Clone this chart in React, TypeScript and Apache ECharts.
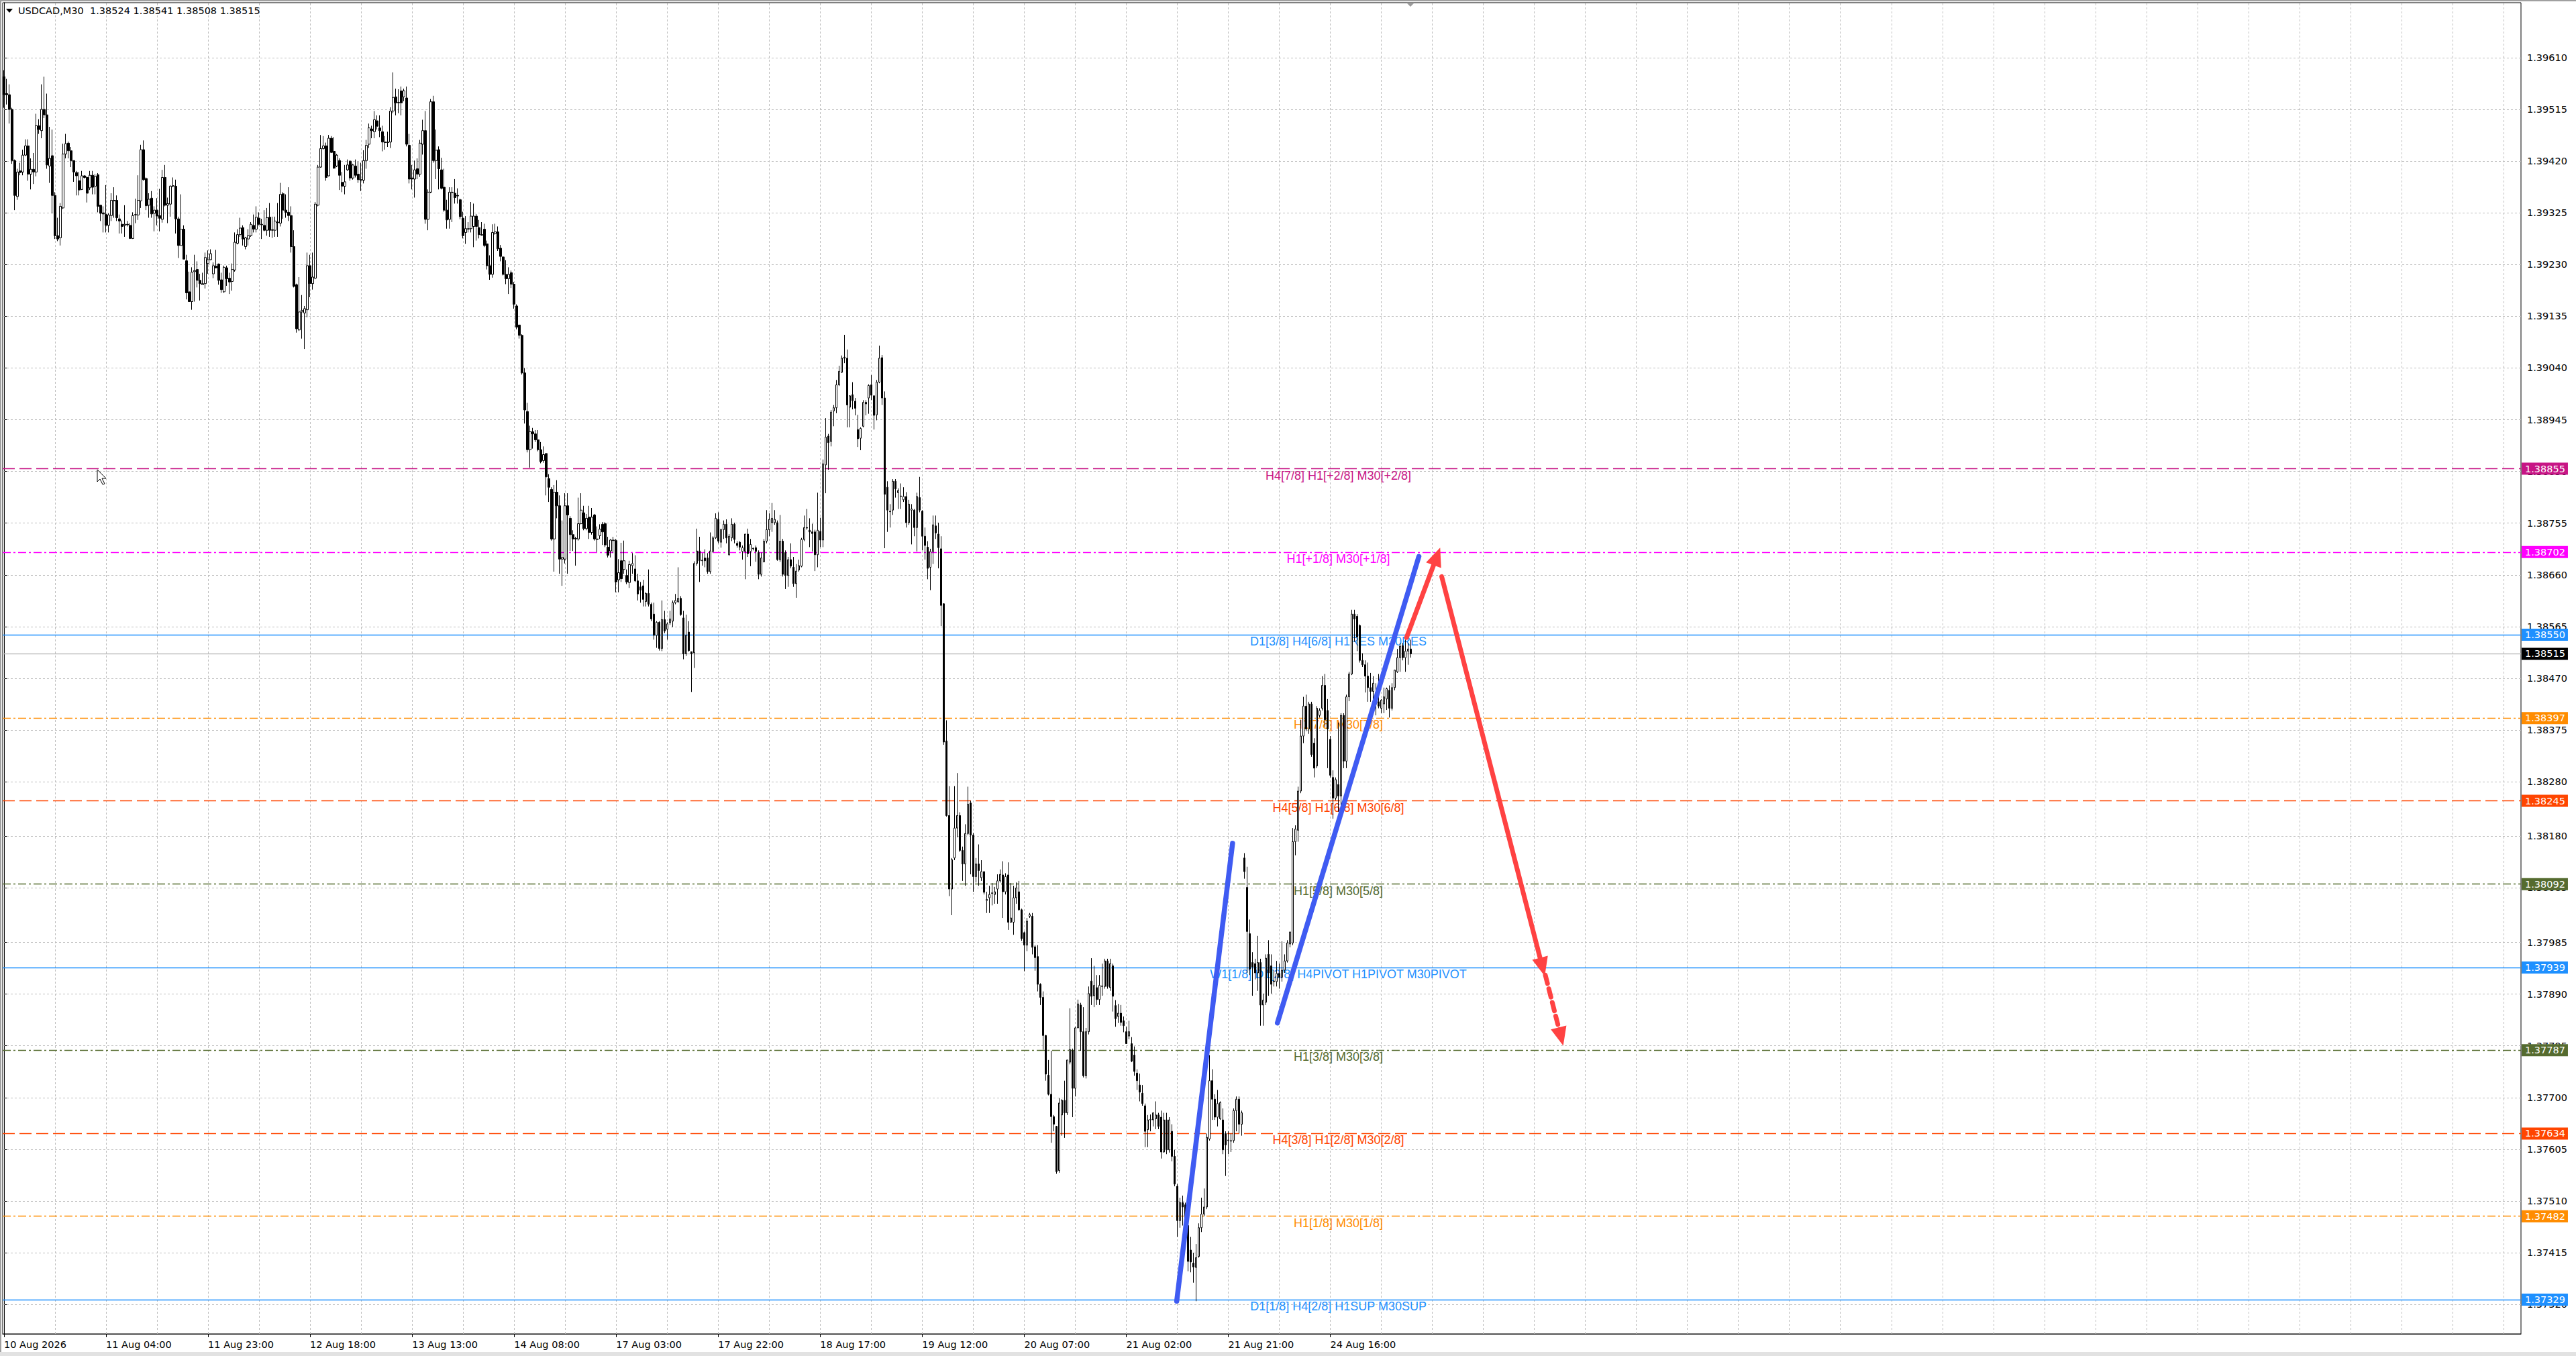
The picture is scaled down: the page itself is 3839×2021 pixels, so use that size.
import React, { useEffect, useRef } from "react";
import * as echarts from "echarts";

// ---------- data ----------
const symbolName = "USDCAD,M30";
const headerOHLC = [1.38524, 1.38541, 1.38508, 1.38515];
const bidPrice = 1.38515;
const totalSlots = 938; // bar slots on the time axis (incl. empty right margin)
const barsPerTick = 38;
const timeTickLabels = [
  "10 Aug 2026", "11 Aug 04:00", "11 Aug 23:00", "12 Aug 18:00", "13 Aug 13:00",
  "14 Aug 08:00", "17 Aug 03:00", "17 Aug 22:00", "18 Aug 17:00", "19 Aug 12:00",
  "20 Aug 07:00", "21 Aug 02:00", "21 Aug 21:00", "24 Aug 16:00",
];
const priceTickLabels = [
  1.3961, 1.39515, 1.3942, 1.39325, 1.3923, 1.39135, 1.3904, 1.38945, 1.3885,
  1.38755, 1.3866, 1.38565, 1.3847, 1.38375, 1.3828, 1.3818, 1.38085, 1.37985,
  1.3789, 1.37795, 1.377, 1.37605, 1.3751, 1.37415, 1.3732,
];
const levelPrices = [1.38855, 1.38702, 1.3855, 1.38397, 1.38245, 1.38092, 1.37939, 1.37787, 1.37634, 1.37482, 1.37329];
const levelNames = [
  "H4[7/8] H1[+2/8] M30[+2/8]", "H1[+1/8] M30[+1/8]", "D1[3/8] H4[6/8] H1RES M30RES",
  "H1[7/8] M30[7/8]", "H4[5/8] H1[6/8] M30[6/8]", "H1[5/8] M30[5/8]",
  "W1[1/8] D1[2/8] H4PIVOT H1PIVOT M30PIVOT", "H1[3/8] M30[3/8]", "H4[3/8] H1[2/8] M30[2/8]",
  "H1[1/8] M30[1/8]", "D1[1/8] H4[2/8] H1SUP M30SUP",
];
const levelColors = ["#C71585", "#FF00FF", "#1E90FF", "#FF8C00", "#FF4500", "#556B2F", "#1E90FF", "#556B2F", "#FF4500", "#FF8C00", "#1E90FF"];
const levelKinds = ["dash", "dashdot", "solid", "dashdot", "dash", "dashdot", "solid", "dashdot", "dash", "dashdot", "solid"];

// drawings: [barIndex, price]
const blueLine1 = [[436.8, 1.37326], [457.6, 1.38167]];
const blueLine2 = [[474.3, 1.37837], [527.0, 1.38694]];
const redArrowUp = [[522.4, 1.38545], [533.7, 1.38694]];
const redArrowDown = [[535.5, 1.38657], [573.0, 1.3794]];
const redArrowDashed = [[574.1, 1.37925], [579.9, 1.37812]];

// OHLC in points (price x 100000), rows: [open, close, low, high]
const ohlcBars0to133 = [
[139575,139542,139518,139587],[139544,139542,139524,139571],[139542,139515,139489,139561],[139515,139421,139415,139518],
[139421,139357,139330,139423],[139355,139400,139349,139406],[139402,139399,139394,139417],[139400,139431,139394,139441],
[139431,139448,139429,139460],[139448,139396,139384,139460],[139396,139405,139368,139425],[139405,139400,139378,139435],
[139400,139485,139392,139507],[139485,139478,139470,139497],[139476,139515,139462,139561],[139515,139505,139499,139575],
[139505,139413,139406,139544],[139411,139425,139380,139483],[139430,139357,139324,139478],[139357,139283,139277,139363],
[139283,139277,139273,139316],[139279,139337,139265,139343],[139334,139433,139332,139452],[139433,139452,139425,139470],
[139453,139439,139425,139456],[139439,139421,139409,139446],[139421,139400,139382,139421],[139399,139393,139357,139402],
[139384,139367,139357,139400],[139368,139393,139367,139402],[139393,139390,139388,139394],[139390,139361,139344,139392],
[139371,139394,139367,139402],[139394,139372,139359,139402],[139374,139392,139359,139396],[139395,139337,139326,139398],
[139339,139324,139310,139339],[139325,139323,139289,139337],[139322,139302,139289,139376],[139302,139321,139289,139324],
[139320,139348,139310,139361],[139348,139347,139316,139372],[139348,139316,139310,139357],[139314,139310,139287,139322],
[139304,139300,139287,139311],[139302,139304,139281,139339],[139304,139303,139300,139310],[139302,139278,139277,139306],
[139278,139320,139277,139326],[139321,139322,139306,139351],[139321,139348,139312,139394],[139347,139441,139334,139450],
[139441,139386,139384,139458],[139388,139338,139330,139390],[139339,139350,139316,139361],[139352,139323,139316,139365],
[139324,139330,139291,139337],[139330,139319,139302,139352],[139320,139315,139291,139369],[139313,139390,139307,139404],
[139390,139339,139337,139413],[139339,139342,139306,139353],[139341,139374,139318,139376],[139374,139375,139372,139390],
[139374,139314,139287,139386],[139314,139265,139242,139318],[139265,139295,139265,139359],[139295,139240,139240,139302],
[139237,139178,139166,139248],[139180,139162,139162,139217],[139162,139216,139147,139225],[139217,139219,139162,139248],
[139221,139201,139188,139236],[139201,139195,139164,139213],[139193,139195,139193,139215],[139195,139243,139186,139252],
[139232,139239,139213,139256],[139239,139250,139238,139258],[139213,139228,139205,139234],[139227,139224,139223,139257],
[139231,139201,139193,139232],[139202,139184,139178,139215],[139180,139225,139178,139228],[139224,139204,139191,139228],
[139205,139198,139176,139215],[139199,139221,139182,139232],[139220,139271,139217,139289],[139269,139285,139267,139295],
[139285,139297,139281,139316],[139298,139277,139265,139302],[139263,139279,139258,139281],[139277,139283,139265,139295],
[139283,139304,139281,139308],[139302,139295,139289,139322],[139295,139317,139289,139337],[139315,139304,139302,139326],
[139304,139303,139277,139314],[139302,139293,139291,139330],[139293,139316,139283,139334],[139317,139293,139281,139343],
[139294,139293,139279,139318],[139293,139310,139281,139318],[139308,139307,139281,139343],[139306,139359,139300,139380],
[139360,139330,139314,139363],[139330,139326,139316,139359],[139326,139320,139310,139372],[139320,139263,139252,139337],
[139263,139190,139188,139293],[139193,139112,139105,139195],[139110,139143,139108,139207],[139143,139146,139094,139174],
[139141,139149,139075,139154],[139147,139228,139133,139252],[139228,139195,139170,139248],[139195,139207,139184,139252],
[139205,139341,139203,139345],[139339,139409,139337,139413],[139409,139443,139408,139468],[139443,139448,139441,139466],
[139448,139390,139384,139454],[139393,139462,139392,139468],[139462,139436,139435,139466],[139438,139407,139406,139464],
[139411,139431,139409,139433],[139421,139394,139367,139425],[139381,139374,139363,139400],[139374,139382,139359,139413],
[139404,139413,139402,139423],[139420,139389,139384,139421],[139389,139413,139386,139415],[139411,139394,139390,139423],
[139396,139386,139380,139419],[139386,139385,139365,139417],
];
const ohlcBars134to263 = [
[139385,139421,139379,139440],[139421,139449,139406,139459],[139451,139481,139444,139489],[139479,139476,139462,139485],
[139474,139496,139462,139512],[139494,139484,139478,139504],[139481,139476,139464,139504],[139474,139455,139438,139485],
[139455,139454,139441,139466],[139454,139455,139446,139474],[139455,139512,139444,139519],[139512,139537,139508,139583],
[139538,139527,139504,139553],[139527,139528,139508,139552],[139549,139527,139504,139557],[139538,139549,139530,139553],
[139536,139451,139447,139557],[139449,139387,139379,139470],[139389,139387,139368,139413],[139387,139404,139353,139421],
[139406,139396,139387,139425],[139396,139453,139391,139459],[139451,139476,139432,139496],[139476,139313,139305,139512],
[139313,139363,139293,139368],[139363,139529,139361,139534],[139529,139421,139417,139540],[139421,139440,139387,139478],
[139441,139406,139368,139447],[139404,139370,139368,139426],[139372,139330,139327,139406],[139330,139312,139296,139349],
[139313,139363,139296,139372],[139362,139363,139308,139372],[139361,139353,139342,139387],[139357,139356,139342,139370],
[139349,139318,139313,139351],[139315,139283,139278,139327],[139289,139296,139268,139319],[139296,139295,139289,139308],
[139296,139319,139289,139345],[139300,139319,139262,139342],[139319,139300,139274,139323],[139298,139285,139278,139312],
[139285,139284,139283,139308],[139295,139265,139262,139305],[139268,139228,139221,139274],[139228,139212,139202,139247],
[139212,139289,139206,139304],[139287,139290,139285,139305],[139290,139259,139255,139300],[139260,139245,139236,139266],
[139244,139212,139210,139245],[139212,139204,139194,139238],[139204,139212,139176,139225],[139215,139194,139187,139219],
[139194,139157,139149,139198],[139154,139115,139111,139157],[139119,139100,139094,139119],[139100,139031,139028,139102],
[139031,138963,138938,139040],[138960,138890,138885,138976],[138890,138923,138857,138934],[138923,138919,138892,138930],
[138919,138908,138904,138926],[138908,138890,138887,138926],[138890,138868,138865,138904],[138870,138881,138866,138896],
[138883,138840,138806,138883],[138837,138821,138794,138845],[138817,138726,138723,138821],[138726,138812,138666,138825],
[138812,138787,138764,138834],[138787,138689,138662,138806],[138689,138692,138640,138760],[138689,138787,138681,138810],
[138787,138770,138662,138810],[138764,138734,138704,138768],[138734,138726,138704,138742],[138726,138727,138677,138730],
[138726,138754,138723,138802],[138754,138779,138753,138810],[138774,138745,138742,138787],[138745,138764,138742,138772],
[138766,138738,138726,138787],[138738,138766,138734,138783],[138770,138726,138723,138772],[138726,138725,138702,138749],
[138732,138744,138726,138753],[138753,138739,138715,138757],[138754,138715,138711,138757],[138711,138696,138692,138730],
[138704,138724,138692,138726],[138724,138723,138700,138730],[138723,138647,138628,138726],[138651,138664,138628,138689],
[138686,138653,138647,138719],[138670,138686,138662,138723],[138659,138647,138643,138670],[138646,138679,138636,138686],
[138677,138681,138662,138700],[138671,138649,138647,138696],[138649,138625,138613,138662],[138638,138632,138609,138647],
[138640,138615,138602,138651],[138611,138626,138602,138628],[138626,138606,138602,138670],[138606,138579,138575,138609],
[138588,138549,138541,138609],[138549,138573,138526,138575],[138573,138525,138521,138575],[138525,138578,138520,138613],
[138578,138557,138553,138594],[138560,138570,138541,138573],[138572,138579,138568,138594],[138575,138609,138564,138613],
[138609,138613,138606,138625],[138611,138617,138608,138674],[138617,138587,138585,138621],[138581,138515,138505,138594],
[138515,138549,138511,138587],[138555,138521,138519,138575],[138519,138515,138445,138519],[138517,138681,138489,138685],
[138681,138704,138677,138745],[138704,138686,138647,138730],[138686,138687,138677,138700],[138691,138686,138674,138707],
[138691,138666,138662,138700],[138666,138704,138662,138738],
];
const ohlcBars264to393 = [
[138703,138728,138701,138731],[138728,138764,138726,138773],[138762,138722,138718,138775],[138720,138743,138710,138745],
[138743,138753,138726,138760],[138753,138728,138718,138762],[138697,138731,138695,138735],[138728,138753,138722,138764],
[138753,138725,138718,138756],[138718,138714,138710,138722],[138720,138711,138705,138722],[138703,138710,138688,138714],
[138703,138735,138652,138735],[138735,138699,138693,138745],[138703,138716,138676,138726],[138708,138709,138705,138710],
[138710,138703,138684,138714],[138701,138661,138652,138705],[138661,138691,138657,138701],[138684,138722,138683,138726],
[138722,138743,138718,138779],[138743,138762,138731,138773],[138756,138764,138739,138792],[138756,138762,138752,138779],
[138756,138688,138686,138760],[138688,138722,138684,138770],[138722,138661,138657,138726],[138701,138659,138634,138705],
[138659,138688,138638,138693],[138688,138676,138672,138718],[138674,138644,138638,138693],[138644,138667,138618,138680],
[138669,138677,138666,138688],[138676,138725,138674,138728],[138725,138747,138722,138769],[138747,138746,138743,138781],
[138742,138739,138711,138764],[138739,138736,138703,138754],[138739,138697,138667,138743],[138697,138742,138674,138811],
[138740,138724,138711,138765],[138724,138864,138711,138872],[138862,138913,138810,138948],[138915,138903,138853,138919],
[138905,138959,138896,138963],[138961,138967,138933,138972],[138967,139009,138957,139018],[139009,139034,139007,139044],
[139032,139058,139031,139063],[139060,139058,139049,139101],[139058,138972,138931,139074],[138968,138989,138931,138990],
[138991,138980,138964,139014],[138979,138966,138953,138985],[138927,138910,138895,138954],[138911,138929,138889,138931],
[138933,138977,138931,138981],[138977,138974,138953,138981],[138985,139008,138956,139010],[139009,138990,138981,139027],
[138989,138953,138927,138989],[138954,139014,138944,139018],[139014,139058,139012,139081],[139059,138985,138972,139064],
[138985,138808,138709,138997],[138821,138779,138739,138832],[138777,138776,138747,138790],[138779,138832,138770,138836],
[138832,138818,138802,138836],[138811,138815,138781,138819],[138804,138805,138781,138828],[138798,138804,138794,138821],
[138804,138756,138747,138812],[138756,138790,138752,138798],[138779,138781,138716,138790],[138779,138747,138731,138781],
[138747,138804,138703,138811],[138802,138779,138775,138840],[138777,138731,138705,138779],[138731,138714,138688,138747],
[138711,138672,138652,138722],[138674,138703,138632,138708],[138703,138752,138680,138769],[138750,138737,138726,138769],
[138735,138710,138672,138756],[138708,138604,138566,138731],[138607,138353,138348,138608],[138355,138218,138216,138393],
[138218,138083,138070,138272],[138083,138137,138035,138140],[138140,138195,138136,138272],[138195,138218,138178,138296],
[138218,138154,138151,138224],[138154,138129,138098,138161],[138129,138185,138089,138202],[138185,138239,138182,138271],
[138241,138182,138110,138245],[138182,138106,138078,138186],[138106,138129,138095,138140],[138129,138117,138089,138165],
[138104,138115,138098,138136],[138115,138077,138073,138115],[138062,138064,138039,138078],[138067,138073,138039,138089],
[138075,138076,138053,138094],[138073,138078,138056,138087],[138083,138098,138056,138110],[138098,138110,138095,138119],
[138109,138078,138030,138134],[138078,138106,138073,138112],[138109,138022,138008,138132],[138022,138030,138022,138094],
[138022,138067,137999,138089],[138067,138085,138056,138095],[138078,138045,138043,138098],[138045,137992,137988,138047],
[138003,137980,137932,138005],[137980,138024,137969,138030],[138033,138036,138030,138039],[138033,137976,137963,138039],
[137977,137957,137933,137980],[137959,137908,137895,137980],[137908,137884,137870,137910],[137884,137814,137788,137895],
[137814,137743,137731,137815],[137741,137706,137704,137769],[137706,137665,137617,137786],[137665,137651,137638,137668],
[137647,137564,137560,137648],[137566,137690,137562,137699],
];
const ohlcBars394to524 = [
[137668,137695,137630,137697],[137695,137672,137626,137731],[137672,137769,137668,137769],[137765,137788,137761,137864],
[137786,137717,137664,137790],[137717,137828,137702,137830],[137828,137872,137828,137880],[137870,137821,137786,137874],
[137821,137740,137737,137866],[137740,137821,137735,137828],[137821,137891,137816,137904],[137914,137886,137870,137956],
[137887,137906,137866,137942],[137902,137880,137870,137925],[137880,137906,137870,137925],[137904,137905,137887,137946],
[137904,137951,137900,137955],[137951,137904,137900,137955],[137902,137946,137896,137955],[137942,137886,137858,137946],
[137869,137845,137830,137879],[137849,137855,137837,137872],[137855,137838,137832,137870],[137841,137832,137820,137849],
[137821,137799,137799,137830],[137813,137821,137807,137841],[137799,137767,137765,137811],[137778,137748,137740,137794],
[137745,137731,137714,137752],[137723,137710,137693,137744],[137708,137689,137685,137723],[137685,137638,137609,137689],
[137641,137659,137609,137668],[137659,137660,137638,137669],[137659,137672,137647,137672],[137661,137668,137642,137693],
[137668,137647,137642,137672],[137664,137600,137588,137676],[137600,137659,137599,137672],[137659,137604,137596,137672],
[137604,137659,137599,137664],[137638,137592,137583,137651],[137592,137541,137537,137604],[137537,137474,137444,137541],
[137474,137507,137461,137516],[137507,137499,137465,137520],[137503,137469,137457,137507],[137465,137399,137381,137474],
[137420,137398,137379,137444],[137396,137389,137360,137415],[137388,137406,137326,137431],[137408,137461,137406,137469],
[137461,137486,137453,137516],[137486,137499,137482,137533],[137499,137627,137495,137634],[137624,137731,137621,137778],
[137731,137697,137659,137752],[137697,137664,137659,137706],[137664,137689,137647,137714],[137661,137691,137659,137693],
[137659,137604,137596,137680],[137634,137613,137556,137638],[137621,137622,137596,137638],[137621,137620,137600,137634],
[137621,137676,137617,137680],[137676,137697,137638,137702],[137697,137651,137634,137702],[137651,137672,137630,137676],
[138140,138115,138102,138149],[138086,138005,137929,138124],[138001,137936,137925,138027],[137948,137940,137887,137967],
[137946,137929,137917,137955],[137929,137948,137896,137997],[137948,137870,137832,137955],[137870,137879,137832,137891],
[137875,137956,137870,137963],[137963,137929,137887,137989],[137942,137908,137891,137963],[137914,137913,137904,137934],
[137913,137928,137904,137951],[137928,137921,137900,137946],[137921,137934,137913,137987],[137934,137951,137929,137963],
[137951,137984,137948,137989],[137982,138004,137976,138005],[137984,138170,137980,138195],[138170,138193,138145,138200],
[138191,138263,138170,138271],[138263,138364,138259,138394],[138364,138419,138351,138436],[138419,138377,138373,138440],
[138377,138423,138368,138427],[138423,138330,138326,138427],[138351,138305,138288,138360],[138309,138415,138305,138419],
[138402,138411,138398,138415],[138415,138457,138411,138474],[138457,138394,138381,138478],[138411,138377,138305,138432],
[138358,138292,138288,138364],[138288,138250,138212,138301],[138250,138284,138246,138288],[138275,138254,138225,138389],
[138254,138402,138225,138406],[138402,138318,138305,138406],[138318,138436,138305,138440],[138436,138478,138428,138482],
[138478,138588,138476,138596],[138588,138579,138537,138596],[138584,138546,138520,138588],[138567,138503,138499,138569],
[138503,138495,138491,138516],[138495,138474,138444,138503],[138474,138453,138427,138499],[138453,138446,138427,138480],
[138446,138461,138427,138474],[138444,138423,138402,138461],[138427,138419,138415,138478],[138415,138430,138406,138432],
[138423,138436,138406,138453],[138432,138451,138412,138453],[138448,138415,138398,138457],[138415,138453,138411,138461],
[138453,138485,138448,138486],[138482,138508,138480,138524],[138508,138529,138482,138535],[138530,138508,138503,138535],
[138508,138520,138482,138541],[138520,138524,138495,138535],[138524,138515,138508,138541],
];

// ---------- layout ----------
const W = 3839;
const H = 2021;
const GRID_L = 4;
const GRID_R = 82;
const GRID_T = 4;
const GRID_B = 33;
const Y_MIN = 1.37266;
const Y_MAX = 1.39711;
const AXIS_FONT = "DejaVu Sans";
const LABEL_FONT = "Liberation Sans";

function dashFor(kind: string): any {
  if (kind === "dash") return [18, 7];
  if (kind === "dashdot") return [12, 4, 3, 4];
  return "solid";
}

export default function App() {
  const ref = useRef<HTMLDivElement>(null);

  useEffect(() => {
    const el = ref.current;
    if (!el) return;
    const chart = echarts.init(el, null, { renderer: "svg" });

    const categories = Array.from({ length: totalSlots }, (_, i) => String(i));
    const candles = [...ohlcBars0to133, ...ohlcBars134to263, ...ohlcBars264to393, ...ohlcBars394to524].map((r) =>
      r.map((v) => v / 100000)
    );
    const showTick = (index: number) => index % barsPerTick === 0 && index / barsPerTick < timeTickLabels.length;

    const gridLineData: any[] = [];
    priceTickLabels.forEach((v) => gridLineData.push({ yAxis: v }));
    for (let k = 19; k < totalSlots; k += 19) gridLineData.push({ xAxis: k });

    const levelData: any[] = [];
    const levelTextData: any[] = [];
    levelPrices.forEach((p, i) => {
      levelData.push({
        yAxis: p,
        lineStyle: { color: levelColors[i], type: dashFor(levelKinds[i]), width: 1.3 },
        label: {
          show: true,
          position: "end",
          distance: 1,
          formatter: p.toFixed(5),
          backgroundColor: levelColors[i],
          color: "#fff",
          padding: [2, 4, 1, 5],
          fontSize: 14.5,
          lineHeight: 15,
          fontFamily: AXIS_FONT,
        },
      });
      levelTextData.push([
        {
          coord: [457, p],
          label: {
            show: true,
            opacity: 1,
            position: "insideMiddleBottom",
            distance: 1,
            formatter: levelNames[i],
            color: levelColors[i],
            fontSize: 18,
            fontFamily: LABEL_FONT,
          },
        },
        { coord: [537, p] },
      ]);
    });
    levelData.push({
      yAxis: bidPrice,
      lineStyle: { color: "#C0C0C0", type: "solid", width: 1.3 },
      label: {
        show: true,
        position: "end",
        distance: 1,
        formatter: bidPrice.toFixed(5),
        backgroundColor: "#000",
        color: "#fff",
        padding: [2, 4, 1, 5],
        fontSize: 14.5,
        lineHeight: 15,
        fontFamily: AXIS_FONT,
      },
    });

    const drawing = (pts: number[][], color: string, width: number, arrow: boolean, dashed: boolean) => ({
      type: "line",
      xAxisIndex: 1,
      yAxisIndex: 0,
      data: [],
      silent: true,
      markLine: {
        silent: true,
        animation: false,
        precision: 5,
        z: 10,
        symbol: arrow ? ["none", "triangle"] : ["none", "none"],
        symbolSize: [24, 28],
        label: { show: false },
        lineStyle: { color, width, type: dashed ? [13, 8] : "solid", cap: "round", opacity: 1 },
        itemStyle: { color },
        data: [[{ coord: pts[0] }, { coord: pts[1] }]],
      },
    });

    const headerText = `${symbolName}  ${headerOHLC.map((v) => v.toFixed(5)).join(" ")}`;

    const option: any = {
      animation: false,
      backgroundColor: "#ffffff",
      grid: {
        left: GRID_L,
        right: GRID_R,
        top: GRID_T,
        bottom: GRID_B,
        show: true,
        borderColor: "#000",
        borderWidth: 1,
        backgroundColor: "transparent",
      },
      xAxis: [
        {
          type: "category",
          data: categories,
          boundaryGap: true,
          axisLine: { show: true, lineStyle: { color: "#000", width: 1 } },
          axisTick: { show: true, alignWithLabel: true, interval: showTick, length: 5, lineStyle: { color: "#000" } },
          axisLabel: {
            interval: showTick,
            formatter: (_v: any, i: number) => timeTickLabels[i / barsPerTick],
            align: "left",
            color: "#000",
            fontFamily: AXIS_FONT,
            fontSize: 14.5,
            margin: 8,
          },
          splitLine: { show: false },
        },
        { type: "value", min: -0.5, max: totalSlots - 0.5, show: false },
      ],
      yAxis: {
        type: "value",
        position: "right",
        min: Y_MIN,
        max: Y_MAX,
        axisLine: { show: true, lineStyle: { color: "#000", width: 1 } },
        axisTick: { show: true, length: 5, lineStyle: { color: "#000" }, customValues: priceTickLabels },
        axisLabel: {
          customValues: priceTickLabels,
          formatter: (v: number) => v.toFixed(5),
          color: "#000",
          fontFamily: AXIS_FONT,
          fontSize: 14.5,
          margin: 9,
        },
        splitLine: { show: false },
      },
      series: [
        {
          type: "line",
          xAxisIndex: 1,
          yAxisIndex: 0,
          data: [],
          silent: true,
          z: 1,
          markLine: {
            silent: true,
            animation: false,
            precision: 5,
            z: 1,
            symbol: ["none", "none"],
            label: { show: false },
            lineStyle: { color: "#bdbdbd", type: [3, 3], width: 1 },
            data: gridLineData,
          },
        },
        {
          type: "line",
          xAxisIndex: 1,
          yAxisIndex: 0,
          data: [],
          silent: true,
          z: 2,
          markLine: {
            silent: true,
            animation: false,
            precision: 5,
            z: 2,
            symbol: ["none", "none"],
            data: levelData,
          },
        },
        {
          type: "line",
          xAxisIndex: 1,
          yAxisIndex: 0,
          data: [],
          silent: true,
          z: 2,
          markLine: {
            silent: true,
            animation: false,
            precision: 5,
            z: 2,
            symbol: ["none", "none"],
            lineStyle: { color: "rgba(255,255,255,0)", width: 1, opacity: 1 },
            label: { show: true },
            data: levelTextData,
          },
        },
        {
          type: "candlestick",
          xAxisIndex: 0,
          yAxisIndex: 0,
          data: candles,
          barWidth: 3,
          z: 3,
          silent: true,
          itemStyle: {
            color: "#ffffff",
            color0: "#000000",
            borderColor: "#000000",
            borderColor0: "#000000",
            borderWidth: 1,
          },
        },
        drawing(blueLine1, "#3F5BF2", 7.5, false, false),
        drawing(blueLine2, "#3F5BF2", 7.5, false, false),
        drawing(redArrowUp, "#FF4242", 7, true, false),
        drawing(redArrowDown, "#FF4242", 7, true, false),
        drawing(redArrowDashed, "#FF4242", 7, true, true),
      ],
      graphic: [
        { type: "rect", shape: { x: 0, y: 0, width: W, height: 2 }, style: { fill: "#a0a0a0" }, z: 100, silent: true },
        { type: "rect", shape: { x: 0, y: 0, width: 2, height: H }, style: { fill: "#a0a0a0" }, z: 100, silent: true },
        { type: "rect", shape: { x: 0, y: H - 6, width: W, height: 6 }, style: { fill: "#e2e2e2" }, z: 100, silent: true },
        {
          type: "polygon",
          shape: { points: [[9, 13], [19, 13], [14, 19]] },
          style: { fill: "#000" },
          z: 100,
          silent: true,
        },
        {
          type: "text",
          x: 27,
          y: 16,
          z: 100,
          silent: true,
          style: { text: headerText, fill: "#000", fontSize: 14.5, fontFamily: AXIS_FONT, verticalAlign: "middle" },
        },
        {
          type: "polygon",
          shape: { points: [[2096, 4], [2108, 4], [2102, 10]] },
          style: { fill: "#9a9a9a" },
          z: 100,
          silent: true,
        },
        {
          type: "polygon",
          shape: { points: [[145, 700], [145, 718], [149, 714], [153, 722], [156, 721], [152, 713], [158, 713]] },
          style: { fill: "#ffffff", stroke: "#000", lineWidth: 1 },
          z: 100,
          silent: true,
        },
      ],
    };

    chart.setOption(option);
    return () => chart.dispose();
  }, []);

  return (
    <div
      ref={ref}
      style={{ position: "fixed", left: 0, top: 0, width: W + "px", height: H + "px", background: "#fff" }}
    />
  );
}
